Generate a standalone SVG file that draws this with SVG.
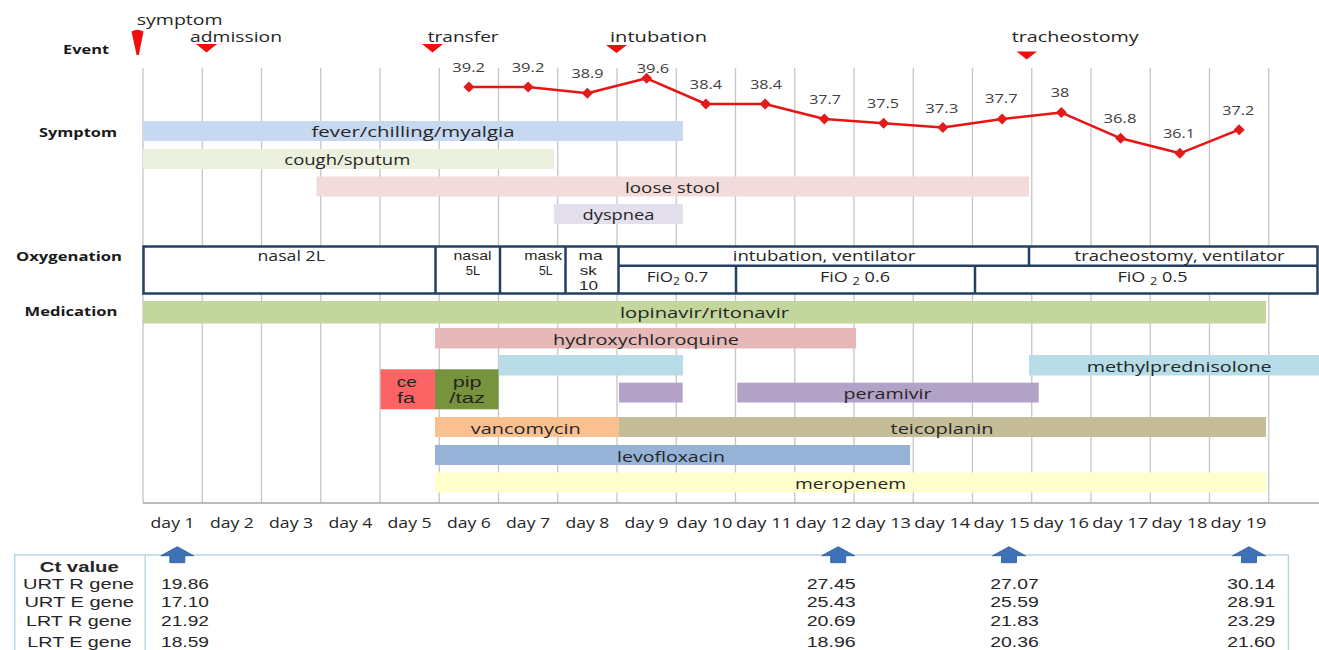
<svg xmlns="http://www.w3.org/2000/svg" width="1319" height="650" viewBox="0 0 1319 650">
<style>
text { font-family: "Open Sans", "Noto Sans", "DejaVu Sans", sans-serif; fill: #262626; }
.ev { font-size: 15px; }
.hd { font-size: 13px; font-weight: bold; fill: #1a1a1a; }
.tv { font-size: 13px; text-anchor: middle; fill: #404040; }
.bl { font-size: 15px; text-anchor: middle; }
.bls { font-family: "Liberation Sans", Arial, sans-serif; font-size: 14px; text-anchor: middle; }
.ox { font-size: 14px; text-anchor: middle; }
.oxs { font-family: "Liberation Sans", Arial, sans-serif; font-size: 13px; text-anchor: middle; }
.dy { font-size: 14px; text-anchor: middle; }
.ct { font-family: "Liberation Sans", Arial, sans-serif; font-size: 15px; }
.ctm { font-family: "Liberation Sans", Arial, sans-serif; font-size: 15px; text-anchor: middle; }
.cte { font-family: "Liberation Sans", Arial, sans-serif; font-size: 15px; text-anchor: end; }
.grid { stroke: #c6c6c6; stroke-width: 1.3; fill: none; }
.mk { fill: #f20d0d; }
.oxb { fill: none; stroke: #243f60; stroke-width: 2.5; }
.tline { fill: none; stroke: #e81414; stroke-width: 2.5; stroke-linejoin: round; }
.dm { fill: #e21a1a; }
.arr { fill: #3d72b8; stroke: #2c5a94; stroke-width: 0.8; }
.tbl { fill: none; stroke: #b9d5df; stroke-width: 1.5; }
</style>
<defs>
<path id="diamond" d="M0,-5.5 L5.5,0 L0,5.5 L-5.5,0 Z"/>
<path id="uparrow" d="M0,0 L16.5,9 L7.5,9 L7.5,16 L-7.5,16 L-7.5,9 L-16.5,9 Z"/>
</defs>
<rect x="0" y="0" width="1319" height="650" fill="#ffffff"/>

<!-- grid -->
<g id="grid">
<path class="grid" d="M143,68V503M202.25,68V503M261.5,68V503M320.75,68V503M380,68V503M439.25,68V503M498.5,68V503M557.75,68V503M617,68V503M676.25,68V503M735.5,68V503M794.75,68V503M854,68V503M913.25,68V503M972.5,68V503M1031.75,68V503M1091,68V503M1150.25,68V503M1209.5,68V503M1268.75,68V503"/>
<path d="M143,503H1319" stroke="#a6a6a6" stroke-width="1.3" fill="none"/>
</g>

<!-- row headers -->
<g id="headers">
<text class="hd" x="63" y="54" textLength="46" lengthAdjust="spacingAndGlyphs">Event</text>
<text class="hd" x="39" y="137" textLength="78" lengthAdjust="spacingAndGlyphs">Symptom</text>
<text class="hd" x="16" y="261" textLength="106" lengthAdjust="spacingAndGlyphs">Oxygenation</text>
<text class="hd" x="24.5" y="316" textLength="93" lengthAdjust="spacingAndGlyphs">Medication</text>
</g>

<!-- events -->
<g id="event-symptom">
<path class="mk" d="M131.5,31.5 Q137.5,28 143.5,31.5 L138.8,55 L136.6,55 Z"/>
<text class="ev" x="136.7" y="25" textLength="86" lengthAdjust="spacingAndGlyphs">symptom</text>
</g>
<g id="event-admission">
<path class="mk" d="M196,44 L217,44 L206.5,52.5 Z"/>
<text class="ev" x="190" y="42" textLength="92" lengthAdjust="spacingAndGlyphs">admission</text>
</g>
<g id="event-transfer">
<path class="mk" d="M422,44 L443,44 L432.5,52.5 Z"/>
<text class="ev" x="427.7" y="42" textLength="71" lengthAdjust="spacingAndGlyphs">transfer</text>
</g>
<g id="event-intubation">
<path class="mk" d="M606,45 L627,45 L616.5,53 Z"/>
<text class="ev" x="610" y="42" textLength="97" lengthAdjust="spacingAndGlyphs">intubation</text>
</g>
<g id="event-tracheostomy">
<path class="mk" d="M1016.5,51.5 L1037,51.5 L1026.75,59.5 Z"/>
<text class="ev" x="1011.7" y="42" textLength="127" lengthAdjust="spacingAndGlyphs">tracheostomy</text>
</g>

<!-- symptoms -->
<g id="sym-fever">
<rect x="143" y="121" width="540" height="20" fill="#c6d9f0"/>
<text class="bl" x="413" y="137" textLength="203" lengthAdjust="spacingAndGlyphs">fever/chilling/myalgia</text>
</g>
<g id="sym-cough">
<rect x="143" y="149" width="411" height="20" fill="#ebf1de"/>
<text class="bl" x="347.3" y="165" textLength="126" lengthAdjust="spacingAndGlyphs">cough/sputum</text>
</g>
<g id="sym-stool">
<rect x="316.5" y="176.5" width="712.5" height="20" fill="#f2dcdb"/>
<text class="bl" x="672.5" y="192.5" textLength="95" lengthAdjust="spacingAndGlyphs">loose stool</text>
</g>
<g id="sym-dyspnea">
<rect x="554" y="204" width="129" height="20" fill="#e4dfec"/>
<text class="bl" x="618.5" y="220" textLength="72" lengthAdjust="spacingAndGlyphs">dyspnea</text>
</g>

<!-- temperature line -->
<g id="connectors">
<polyline class="tline" points="468.9,86.9 528.1,86.9 587.4,93.3 646.6,78.3 705.9,104 765.1,104 824.4,119 883.6,123.3 942.9,127.6 1002.1,119 1061.4,112.6 1120.6,138.3 1179.9,153.3 1239.1,129.7"/>
</g>
<g id="temperature">
<use href="#diamond" class="dm" x="468.9" y="86.9"/>
<use href="#diamond" class="dm" x="528.1" y="86.9"/>
<use href="#diamond" class="dm" x="587.4" y="93.3"/>
<use href="#diamond" class="dm" x="646.6" y="78.3"/>
<use href="#diamond" class="dm" x="705.9" y="104"/>
<use href="#diamond" class="dm" x="765.1" y="104"/>
<use href="#diamond" class="dm" x="824.4" y="119"/>
<use href="#diamond" class="dm" x="883.6" y="123.3"/>
<use href="#diamond" class="dm" x="942.9" y="127.6"/>
<use href="#diamond" class="dm" x="1002.1" y="119"/>
<use href="#diamond" class="dm" x="1061.4" y="112.6"/>
<use href="#diamond" class="dm" x="1120.6" y="138.3"/>
<use href="#diamond" class="dm" x="1179.9" y="153.3"/>
<use href="#diamond" class="dm" x="1239.1" y="129.7"/>
<text class="tv" x="468.7" y="71.7" textLength="32.7" lengthAdjust="spacingAndGlyphs">39.2</text>
<text class="tv" x="528" y="71.7" textLength="32.7" lengthAdjust="spacingAndGlyphs">39.2</text>
<text class="tv" x="587.5" y="78.3" textLength="32" lengthAdjust="spacingAndGlyphs">38.9</text>
<text class="tv" x="653" y="73.3" textLength="32.6" lengthAdjust="spacingAndGlyphs">39.6</text>
<text class="tv" x="706" y="89" textLength="32.3" lengthAdjust="spacingAndGlyphs">38.4</text>
<text class="tv" x="766" y="89" textLength="31.7" lengthAdjust="spacingAndGlyphs">38.4</text>
<text class="tv" x="825" y="104" textLength="31.7" lengthAdjust="spacingAndGlyphs">37.7</text>
<text class="tv" x="883" y="108.3" textLength="32" lengthAdjust="spacingAndGlyphs">37.5</text>
<text class="tv" x="941.7" y="112.7" textLength="33" lengthAdjust="spacingAndGlyphs">37.3</text>
<text class="tv" x="1001.3" y="103.3" textLength="32.7" lengthAdjust="spacingAndGlyphs">37.7</text>
<text class="tv" x="1060" y="97.3" textLength="18.6" lengthAdjust="spacingAndGlyphs">38</text>
<text class="tv" x="1120" y="123.3" textLength="33" lengthAdjust="spacingAndGlyphs">36.8</text>
<text class="tv" x="1179" y="138.3" textLength="31.7" lengthAdjust="spacingAndGlyphs">36.1</text>
<text class="tv" x="1238.3" y="115" textLength="32" lengthAdjust="spacingAndGlyphs">37.2</text>
</g>

<!-- oxygenation -->
<g id="oxygenation">
<rect x="143.5" y="246.5" width="1174" height="47" fill="#ffffff"/>
<path class="oxb" d="M143.5,246.5H1317.5V293.5H143.5Z M435.5,246.5V293.5 M500,246.5V293.5 M565.5,246.5V293.5 M618.5,246.5V293.5 M618.5,265.7H1317.5 M1029,246.5V265.7 M736,265.7V293.5 M975,265.7V293.5"/>
<text class="ox" x="291.2" y="261" textLength="67.4" lengthAdjust="spacingAndGlyphs">nasal 2L</text>
<text class="oxs" x="472.5" y="260" textLength="38" lengthAdjust="spacingAndGlyphs">nasal</text>
<text class="oxs" x="473" y="275" textLength="14.5" lengthAdjust="spacingAndGlyphs">5L</text>
<text class="oxs" x="543.2" y="260" textLength="38" lengthAdjust="spacingAndGlyphs">mask</text>
<text class="oxs" x="545.7" y="275" textLength="13.5" lengthAdjust="spacingAndGlyphs">5L</text>
<text class="oxs" x="590.5" y="260" textLength="24" lengthAdjust="spacingAndGlyphs">ma</text>
<text class="oxs" x="588.3" y="275" textLength="17" lengthAdjust="spacingAndGlyphs">sk</text>
<text class="oxs" x="588.5" y="290" textLength="19" lengthAdjust="spacingAndGlyphs">10</text>
<text class="ox" x="824" y="261" textLength="182.5" lengthAdjust="spacingAndGlyphs">intubation, ventilator</text>
<text class="ox" x="1179.6" y="261" textLength="210" lengthAdjust="spacingAndGlyphs">tracheostomy, ventilator</text>
<text class="ox" x="677.5" y="281.5" textLength="61.5" lengthAdjust="spacingAndGlyphs">FiO<tspan font-size="10" dy="3">2</tspan><tspan dy="-3"> 0.7</tspan></text>
<text class="ox" x="855" y="281.5" textLength="70" lengthAdjust="spacingAndGlyphs">FiO <tspan font-size="10" dy="3">2</tspan><tspan dy="-3"> 0.6</tspan></text>
<text class="ox" x="1152.5" y="281.5" textLength="70" lengthAdjust="spacingAndGlyphs">FiO <tspan font-size="10" dy="3">2</tspan><tspan dy="-3"> 0.5</tspan></text>
</g>

<!-- medications -->
<g id="med-lopinavir">
<rect x="143" y="301" width="1123" height="22.5" fill="#c3d69b"/>
<text class="bl" x="704.5" y="318" textLength="169" lengthAdjust="spacingAndGlyphs">lopinavir/ritonavir</text>
</g>
<g id="med-hydroxychloroquine">
<rect x="435" y="328" width="421" height="20.5" fill="#e6b9b8"/>
<text class="bl" x="646" y="344.5" textLength="186" lengthAdjust="spacingAndGlyphs">hydroxychloroquine</text>
</g>
<g id="med-lightblue">
<rect x="498.5" y="355" width="184.5" height="20.5" fill="#b7dee8"/>
</g>
<g id="med-methylprednisolone">
<rect x="1029" y="355" width="290" height="20.5" fill="#b7dee8"/>
<text class="bl" x="1179.2" y="372.3" textLength="185" lengthAdjust="spacingAndGlyphs">methylprednisolone</text>
</g>
<g id="med-purple">
<rect x="619" y="382.7" width="63.7" height="19.8" fill="#b3a2c7"/>
</g>
<g id="med-peramivir">
<rect x="737.3" y="382.7" width="301.4" height="19.8" fill="#b3a2c7"/>
<text class="bl" x="887.5" y="399.3" textLength="88" lengthAdjust="spacingAndGlyphs">peramivir</text>
</g>
<g id="med-cefa">
<rect x="380.5" y="369.3" width="54.5" height="40" fill="#fa6464"/>
<text class="bls" x="406.8" y="386.5" textLength="20" lengthAdjust="spacingAndGlyphs">ce</text>
<text class="bls" x="406" y="402.5" textLength="18" lengthAdjust="spacingAndGlyphs">fa</text>
</g>
<g id="med-piptaz">
<rect x="435" y="369.3" width="63.5" height="40" fill="#77933c"/>
<text class="bls" x="467.2" y="386.5" textLength="29" lengthAdjust="spacingAndGlyphs">pip</text>
<text class="bls" x="467.2" y="402.5" textLength="35.7" lengthAdjust="spacingAndGlyphs">/taz</text>
</g>
<g id="med-vancomycin">
<rect x="435" y="417" width="184" height="20" fill="#fac090"/>
<text class="bl" x="525.7" y="433.5" textLength="110" lengthAdjust="spacingAndGlyphs">vancomycin</text>
</g>
<g id="med-teicoplanin">
<rect x="619" y="417" width="647" height="20" fill="#c4bd97"/>
<text class="bl" x="942" y="433.5" textLength="103" lengthAdjust="spacingAndGlyphs">teicoplanin</text>
</g>
<g id="med-levofloxacin">
<rect x="435" y="445" width="475" height="20" fill="#95b3d7"/>
<text class="bl" x="671" y="461.5" textLength="108" lengthAdjust="spacingAndGlyphs">levofloxacin</text>
</g>
<g id="med-meropenem">
<rect x="435" y="472.5" width="831" height="20" fill="#ffffcc"/>
<text class="bl" x="850.5" y="489" textLength="111" lengthAdjust="spacingAndGlyphs">meropenem</text>
</g>

<!-- day axis -->
<g id="days">
<text class="dy" x="172.6" y="528" textLength="44" lengthAdjust="spacingAndGlyphs">day 1</text>
<text class="dy" x="231.9" y="528" textLength="44" lengthAdjust="spacingAndGlyphs">day 2</text>
<text class="dy" x="291.1" y="528" textLength="44" lengthAdjust="spacingAndGlyphs">day 3</text>
<text class="dy" x="350.4" y="528" textLength="44" lengthAdjust="spacingAndGlyphs">day 4</text>
<text class="dy" x="409.6" y="528" textLength="44" lengthAdjust="spacingAndGlyphs">day 5</text>
<text class="dy" x="468.9" y="528" textLength="44" lengthAdjust="spacingAndGlyphs">day 6</text>
<text class="dy" x="528.1" y="528" textLength="44" lengthAdjust="spacingAndGlyphs">day 7</text>
<text class="dy" x="587.4" y="528" textLength="44" lengthAdjust="spacingAndGlyphs">day 8</text>
<text class="dy" x="646.6" y="528" textLength="44" lengthAdjust="spacingAndGlyphs">day 9</text>
<text class="dy" x="704.5" y="528" textLength="56" lengthAdjust="spacingAndGlyphs">day 10</text>
<text class="dy" x="764" y="528" textLength="56" lengthAdjust="spacingAndGlyphs">day 11</text>
<text class="dy" x="823.5" y="528" textLength="56" lengthAdjust="spacingAndGlyphs">day 12</text>
<text class="dy" x="883" y="528" textLength="56" lengthAdjust="spacingAndGlyphs">day 13</text>
<text class="dy" x="942.3" y="528" textLength="56" lengthAdjust="spacingAndGlyphs">day 14</text>
<text class="dy" x="1001.6" y="528" textLength="56" lengthAdjust="spacingAndGlyphs">day 15</text>
<text class="dy" x="1060.9" y="528" textLength="56" lengthAdjust="spacingAndGlyphs">day 16</text>
<text class="dy" x="1120.2" y="528" textLength="56" lengthAdjust="spacingAndGlyphs">day 17</text>
<text class="dy" x="1179.5" y="528" textLength="56" lengthAdjust="spacingAndGlyphs">day 18</text>
<text class="dy" x="1238.5" y="528" textLength="56" lengthAdjust="spacingAndGlyphs">day 19</text>
</g>

<!-- Ct table -->
<g id="ct-table">
<path class="tbl" d="M14.7,650V555H1288.4V650 M145.2,555V650"/>
<use href="#uparrow" class="arr" x="177.3" y="546.7"/>
<use href="#uparrow" class="arr" x="838.2" y="546.7"/>
<use href="#uparrow" class="arr" x="1009" y="546.7"/>
<use href="#uparrow" class="arr" x="1249" y="546.7"/>
<text class="ctm" x="79.3" y="571.5" font-weight="bold" textLength="79" lengthAdjust="spacingAndGlyphs">Ct value</text>
<text class="ctm" x="78.5" y="588.5" textLength="111" lengthAdjust="spacingAndGlyphs">URT R gene</text>
<text class="ctm" x="79.2" y="607.3" textLength="109.6" lengthAdjust="spacingAndGlyphs">URT E gene</text>
<text class="ctm" x="78.8" y="625.5" textLength="105.7" lengthAdjust="spacingAndGlyphs">LRT R gene</text>
<text class="ctm" x="79.5" y="646.5" textLength="104.3" lengthAdjust="spacingAndGlyphs">LRT E gene</text>
<text class="ct" x="161" y="588.5" textLength="48" lengthAdjust="spacingAndGlyphs">19.86</text>
<text class="ct" x="161" y="607.3" textLength="48" lengthAdjust="spacingAndGlyphs">17.10</text>
<text class="ct" x="161" y="625.5" textLength="48" lengthAdjust="spacingAndGlyphs">21.92</text>
<text class="ct" x="161" y="646.5" textLength="48" lengthAdjust="spacingAndGlyphs">18.59</text>
<text class="cte" x="855.7" y="588.5" textLength="49" lengthAdjust="spacingAndGlyphs">27.45</text>
<text class="cte" x="855.7" y="607.3" textLength="49" lengthAdjust="spacingAndGlyphs">25.43</text>
<text class="cte" x="855.7" y="625.5" textLength="49" lengthAdjust="spacingAndGlyphs">20.69</text>
<text class="cte" x="855.7" y="646.5" textLength="49" lengthAdjust="spacingAndGlyphs">18.96</text>
<text class="cte" x="1038.8" y="588.5" textLength="48.5" lengthAdjust="spacingAndGlyphs">27.07</text>
<text class="cte" x="1038.8" y="607.3" textLength="48.5" lengthAdjust="spacingAndGlyphs">25.59</text>
<text class="cte" x="1038.8" y="625.5" textLength="48.5" lengthAdjust="spacingAndGlyphs">21.83</text>
<text class="cte" x="1038.8" y="646.5" textLength="48.5" lengthAdjust="spacingAndGlyphs">20.36</text>
<text class="cte" x="1275.3" y="588.5" textLength="48" lengthAdjust="spacingAndGlyphs">30.14</text>
<text class="cte" x="1275.3" y="607.3" textLength="48" lengthAdjust="spacingAndGlyphs">28.91</text>
<text class="cte" x="1275.3" y="625.5" textLength="48" lengthAdjust="spacingAndGlyphs">23.29</text>
<text class="cte" x="1275.3" y="646.5" textLength="48" lengthAdjust="spacingAndGlyphs">21.60</text>
</g>
</svg>
